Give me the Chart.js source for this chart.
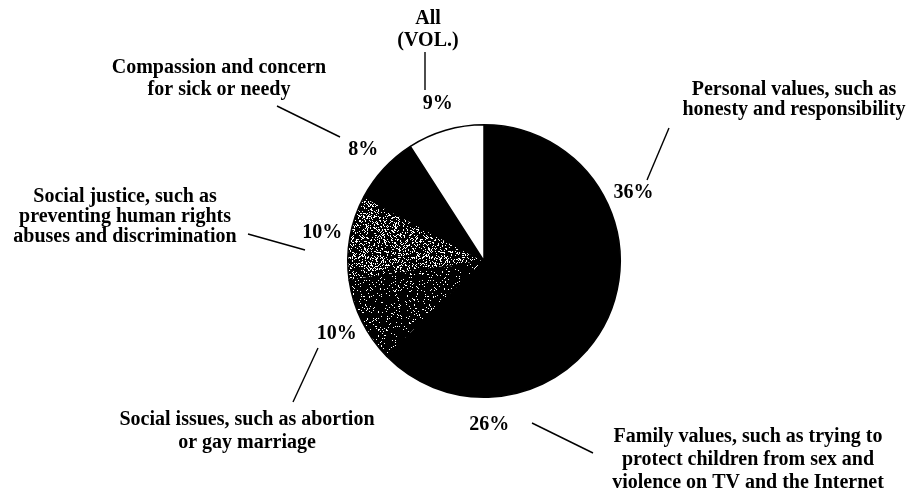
<!DOCTYPE html>
<html>
<head>
<meta charset="utf-8">
<script src="https://cdn.jsdelivr.net/npm/chart.js@4/dist/chart.umd.min.js"></script>
<style>
html, body { margin: 0; padding: 0; background: #fff; }
#wrap { width: 913px; height: 503px; }
</style>
</head>
<body>
<div id="wrap"><canvas id="pieChart" width="913" height="503"></canvas></div>
<script>
// slices, clockwise from 12 o'clock
const categories = [
  "Personal values, such as honesty and responsibility",
  "Family values, such as trying to protect children from sex and violence on TV and the Internet",
  "Social issues, such as abortion or gay marriage",
  "Social justice, such as preventing human rights abuses and discrimination",
  "Compassion and concern for sick or needy",
  "All (VOL.)"
];
const values = [36, 26, 10, 10, 8, 9];

// how each category label is broken into lines
const labelLines = [
  ["Personal values, such as", "honesty and responsibility"],
  ["Family values, such as trying to", "protect children from sex and", "violence on TV and the Internet"],
  ["Social issues, such as abortion", "or gay marriage"],
  ["Social justice, such as", "preventing human rights", "abuses and discrimination"],
  ["Compassion and concern", "for sick or needy"],
  ["All", "(VOL.)"]
];

// label block centre (x, first line y), line gap, leader line
const labelPlaces = [
  { x: 794, y: 90, gap: 20, line: [669, 128, 647, 180] },
  { x: 748, y: 437, gap: 23, line: [532, 423, 593, 453] },
  { x: 247, y: 420, gap: 23, line: [318, 348, 293, 402] },
  { x: 125, y: 197, gap: 20, line: [248, 234, 305, 250] },
  { x: 219, y: 68, gap: 22, line: [277, 106, 340, 137] },
  { x: 428, y: 19, gap: 22, line: [425, 52, 425, 90] }
];

const FONT = "bold 20px 'Liberation Serif', 'Times New Roman', serif";

// speckled fill like the scanned halftone
function speckle(threshold, seed) {
  const n = 64;
  const c = document.createElement("canvas");
  c.width = n; c.height = n;
  const g = c.getContext("2d");
  g.fillStyle = "#000";
  g.fillRect(0, 0, n, n);
  g.fillStyle = "#fff";
  for (let y = 0; y < n; y++) {
    for (let x = 0; x < n; x++) {
      let h = Math.imul(x + seed, 374761393) + Math.imul(y, 668265263);
      h = Math.imul(h ^ (h >>> 13), 1274126177);
      h = (h ^ (h >>> 16)) >>> 0;
      if ((h % 1000) < threshold) g.fillRect(x, y, 1, 1);
    }
  }
  return g.createPattern(c, "repeat");
}

const fills = ["#000", "#000", speckle(80, 3), speckle(230, 17), "#000", "#fff"];

const labelPlugin = {
  id: "pieLabels",
  afterDraw(chart) {
    const g = chart.ctx;
    const arcs = chart.getDatasetMeta(0).data;
    g.save();
    g.fillStyle = "#000";
    g.strokeStyle = "#000";
    g.lineWidth = 1.4;
    g.font = FONT;
    g.textAlign = "center";
    g.textBaseline = "middle";
    arcs.forEach((arc, i) => {
      const mid = (arc.startAngle + arc.endAngle) / 2;
      const d = arc.outerRadius + 28;
      g.fillText(values[i] + "%", arc.x + Math.cos(mid) * d, arc.y + Math.sin(mid) * d);
      const p = labelPlaces[i];
      labelLines[i].forEach((t, k) => g.fillText(t, p.x, p.y + k * p.gap));
      g.beginPath();
      g.moveTo(p.line[0], p.line[1]);
      g.lineTo(p.line[2], p.line[3]);
      g.stroke();
    });
    g.restore();
  }
};

new Chart(document.getElementById("pieChart"), {
  type: "pie",
  data: {
    labels: categories,
    datasets: [{
      data: values,
      backgroundColor: fills,
      borderColor: "#000",
      borderWidth: 1.5
    }]
  },
  options: {
    responsive: false,
    animation: false,
    layout: { padding: { top: 124, bottom: 105, left: 347, right: 292 } },
    plugins: {
      legend: { display: false },
      tooltip: { enabled: false }
    }
  },
  plugins: [labelPlugin]
});
</script>
</body>
</html>
